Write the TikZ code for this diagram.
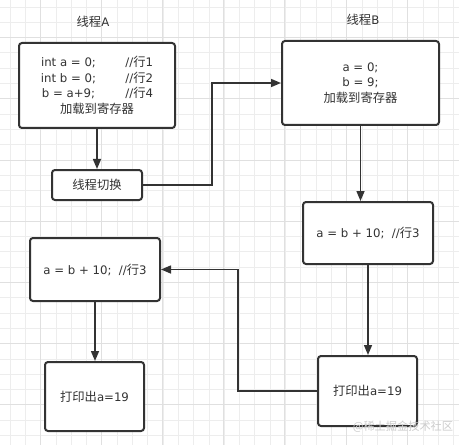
\documentclass[tikz,border=0pt]{standalone}
\usepackage{fontspec}
\setmainfont{DejaVu Sans}
\newfontfamily\cjk[Scale=1.05]{Noto Sans CJK SC}
\usetikzlibrary{arrows.meta}
\definecolor{ink}{HTML}{333333}
\definecolor{gridfine}{HTML}{EDEDED}
\definecolor{gridmajor}{HTML}{E0E0E0}
\begin{document}
\begin{tikzpicture}[x=0.75pt,y=-0.75pt,>={Triangle[length=7.5pt,width=6pt]},
  box/.style={draw=ink,line width=1.5pt,rounded corners=2.25pt,fill=white,
    text=ink,align=center,inner sep=0pt,font=\fontsize{8.8}{11.5}\selectfont},
  link/.style={draw=ink,line width=1.1pt},
  title/.style={text=ink,font=\fontsize{8.8}{11}\selectfont}]
 \useasboundingbox[fill=white] (0,0) rectangle (459,445);
 \foreach \i in {0,...,29} {
  \draw[gridfine,line width=0.6pt] ({10+15.3*\i},0) -- ({10+15.3*\i},445);
  \draw[gridfine,line width=0.6pt] (0,{7+15.3*\i}) -- (459,{7+15.3*\i});
 }
 \foreach \i in {0,...,7} {
  \draw[gridmajor,line width=0.6pt] ({40+61.2*\i},0) -- ({40+61.2*\i},445);
  \draw[gridmajor,line width=0.6pt] (0,{37.6+61.2*\i}) -- (459,{37.6+61.2*\i});
 }
 \begin{scope}
  \node[title] (ta) at (93,22) {{\cjk 线程}A};
  \node[box,minimum width=117pt,minimum height=63.75pt] (load) at (97,85.5)
   {\begin{tabular}{@{}c@{\hspace{22pt}}l@{}}
     int a = 0; & //{\cjk 行}1\\
     int b = 0; & //{\cjk 行}2\\
     b = a+9; & //{\cjk 行}4
    \end{tabular}\\{\cjk 加载到寄存器}};
  \node[box,minimum width=67.5pt,minimum height=22.5pt] (swap) at (97,185) {{\cjk 线程切换}};
  \node[box,minimum width=97.5pt,minimum height=47.25pt] (calca) at (95,269.5) {a = b + 10;\ \ //{\cjk 行}3};
  \node[box,minimum width=74.25pt,minimum height=51.75pt] (printa) at (94.5,396.5) {{\cjk 打印出}a=19};
 \end{scope}
 \begin{scope}
  \node[title] (tb) at (363,20) {{\cjk 线程}B};
  \node[box,minimum width=117.75pt,minimum height=63pt] (loadb) at (360.5,83)
   {a = 0;\\b = 9;\\{\cjk 加载到寄存器}};
  \node[box,minimum width=97.5pt,minimum height=46.5pt] (calcb) at (368,233) {a = b + 10;\ \ //{\cjk 行}3};
  \node[box,minimum width=74.25pt,minimum height=52.5pt] (printb) at (367.5,391) {{\cjk 打印出}a=19};
 \end{scope}
 \coordinate (turn1) at (212,0);
 \coordinate (turn2) at (238,0);
 \draw[link,->] (load.south) -- (swap.north);
 \draw[link,->] (swap.east) -| (turn1 |- loadb.west) -- (loadb.west);
 \draw[link,->] (loadb.south) -- (loadb.south |- calcb.north);
 \draw[link,->] (calcb.south) -- (calcb.south |- printb.north);
 \draw[link,->] (printb.west) -| (turn2 |- calca.east) -- (calca.east);
 \draw[link,->] (calca.south) -- (calca.south |- printa.north);
 \node[text=gray!40,font=\cjk\fontsize{8}{9}\selectfont] (mark) at (403,427) {@稀土掘金技术社区};
\end{tikzpicture}
\end{document}
